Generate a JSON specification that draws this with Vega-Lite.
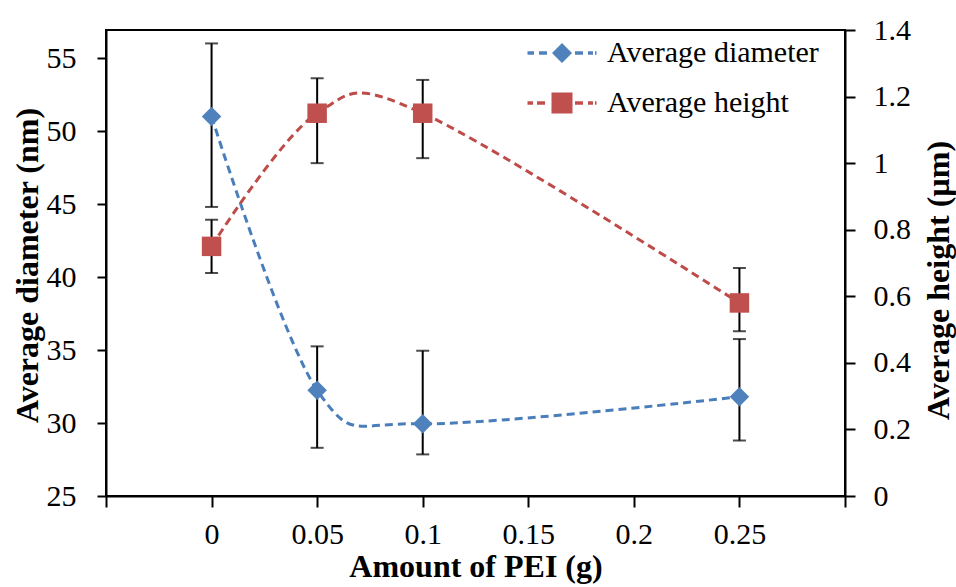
{
  "$schema": "https://vega.github.io/schema/vega-lite/v6.json",
  "width": 739,
  "height": 466,
  "autosize": "none",
  "padding": {"left": 106, "top": 30, "right": 111, "bottom": 91},
  "background": "white",
  "config": {
    "view": {"stroke": "black", "strokeWidth": 2},
    "font": "Liberation Serif",
    "axis": {
      "domainColor": "black", "domainWidth": 2, "tickColor": "black", "tickWidth": 2,
      "labelColor": "black", "titleColor": "black", "grid": false,
      "labelFont": "Liberation Serif", "titleFont": "Liberation Serif",
      "labelFontSize": 30, "titleFontSize": 32, "titleFontWeight": "bold"
    }
  },
  "datasets": {
    "pts": [
      {"x": 0, "diam": 51.0, "dlo": 44.8, "dhi": 56.0, "height": 0.75, "hlo": 0.67, "hhi": 0.83},
      {"x": 0.05, "diam": 32.25, "dlo": 28.3, "dhi": 35.25, "height": 1.15, "hlo": 1.0, "hhi": 1.255},
      {"x": 0.1, "diam": 29.95, "dlo": 27.85, "dhi": 34.95, "height": 1.15, "hlo": 1.015, "hhi": 1.25},
      {"x": 0.25, "diam": 31.8, "dlo": 28.8, "dhi": 35.75, "height": 0.58, "hlo": 0.495, "hhi": 0.685}
    ],
    "leg": [
      {"series": "Average diameter"},
      {"series": "Average height"}
    ]
  },
  "layer": [
    {
      "data": {"name": "pts"},
      "layer": [
        {
          "mark": {"type": "rule", "color": "black", "strokeWidth": 2},
          "encoding": {
            "x": {"field": "x", "type": "quantitative", "scale": {"domain": [-0.05, 0.3], "nice": false, "zero": false},
              "axis": {"orient": "bottom", "values": [-0.05, 0, 0.05, 0.1, 0.15, 0.2, 0.25, 0.3], "tickSize": 11, "labelPadding": 12,
                "labelExpr": "datum.value < -0.01 || datum.value > 0.29 ? '' : format(datum.value, '~g')",
                "title": "Amount of PEI (g)", "titleAlign": "center", "titleBaseline": "alphabetic", "titleX": 369.5, "titleY": 80}},
            "y": {"field": "dlo", "type": "quantitative", "scale": {"domain": [25, 56.92], "nice": false, "zero": false},
              "axis": {"orient": "left", "values": [25, 30, 35, 40, 45, 50, 55], "tickSize": 9, "labelPadding": 21,
                "title": "Average diameter (nm)", "titleAngle": 270, "titleAlign": "center", "titleBaseline": "middle",
                "titleX": -79, "titleY": 235}},
            "y2": {"field": "dhi"}
          }
        },
        {
          "mark": {"type": "tick", "orient": "horizontal", "color": "black", "size": 13, "thickness": 2},
          "encoding": {"x": {"field": "x", "type": "quantitative"}, "y": {"field": "dlo", "type": "quantitative"}}
        },
        {
          "mark": {"type": "tick", "orient": "horizontal", "color": "black", "size": 13, "thickness": 2},
          "encoding": {"x": {"field": "x", "type": "quantitative"}, "y": {"field": "dhi", "type": "quantitative"}}
        },
        {
          "mark": {"type": "line", "color": "#4A7EBB", "strokeWidth": 3, "strokeDash": [8, 5], "interpolate": "cardinal"},
          "encoding": {"x": {"field": "x", "type": "quantitative"}, "y": {"field": "diam", "type": "quantitative"}}
        },
        {
          "mark": {"type": "point", "shape": "diamond", "filled": true, "opacity": 1, "color": "#4F81BD", "size": 380},
          "encoding": {"x": {"field": "x", "type": "quantitative"}, "y": {"field": "diam", "type": "quantitative"}}
        }
      ]
    },
    {
      "data": {"name": "pts"},
      "layer": [
        {
          "mark": {"type": "rule", "color": "black", "strokeWidth": 2},
          "encoding": {
            "x": {"field": "x", "type": "quantitative"},
            "y": {"field": "hlo", "type": "quantitative", "scale": {"domain": [0, 1.4], "nice": false, "zero": false},
              "axis": {"orient": "right", "values": [0, 0.2, 0.4, 0.6, 0.8, 1, 1.2, 1.4], "tickSize": 10, "labelPadding": 18,
                "labelExpr": "format(datum.value, '~g')",
                "title": "Average height (µm)", "titleFontSize": 32, "titleAngle": 270, "titleAlign": "center", "titleBaseline": "middle",
                "titleX": 93, "titleY": 250}},
            "y2": {"field": "hhi"}
          }
        },
        {
          "mark": {"type": "tick", "orient": "horizontal", "color": "black", "size": 13, "thickness": 2},
          "encoding": {"x": {"field": "x", "type": "quantitative"}, "y": {"field": "hlo", "type": "quantitative"}}
        },
        {
          "mark": {"type": "tick", "orient": "horizontal", "color": "black", "size": 13, "thickness": 2},
          "encoding": {"x": {"field": "x", "type": "quantitative"}, "y": {"field": "hhi", "type": "quantitative"}}
        },
        {
          "mark": {"type": "line", "color": "#BE4B48", "strokeWidth": 3, "strokeDash": [8, 5], "interpolate": "cardinal"},
          "encoding": {"x": {"field": "x", "type": "quantitative"}, "y": {"field": "height", "type": "quantitative"}}
        },
        {
          "mark": {"type": "point", "shape": "square", "filled": true, "opacity": 1, "color": "#C0504D", "size": 380},
          "encoding": {"x": {"field": "x", "type": "quantitative"}, "y": {"field": "height", "type": "quantitative"}}
        }
      ]
    },
    {
      "data": {"name": "leg"},
      "transform": [{"filter": "false"}],
      "mark": {"type": "point", "filled": true, "opacity": 1},
      "encoding": {
        "color": {"field": "series", "type": "nominal",
          "scale": {"domain": ["Average diameter", "Average height"], "range": ["#4F81BD", "#C0504D"]},
          "legend": {"title": null, "orient": "none", "legendX": 441, "legendY": 8, "padding": 0,
            "symbolSize": 400, "symbolOpacity": 1, "symbolStrokeWidth": 0, "labelOffset": 30,
            "labelFont": "Liberation Serif", "labelFontSize": 30, "labelColor": "black", "rowPadding": 20,
            "labelLimit": 400}},
        "shape": {"field": "series", "type": "nominal",
          "scale": {"domain": ["Average diameter", "Average height"],
            "range": [
              "M-3.45,-0.18H-2.8V0.18H-3.45Z M-2.3,-0.18H-1.5V0.18H-2.3Z M-1,0L0,-1L1,0L0,1Z M1.3,-0.18H2.1V0.18H1.3Z M2.6,-0.18H3.1V0.18H2.6Z M3.3,-0.18H3.45V0.18H3.3Z",
              "M-3.45,-0.18H-2.9V0.18H-3.45Z M-2.5,-0.18H-1.7V0.18H-2.5Z M-1.05,-1.05H1.05V1.05H-1.05Z M1.3,-0.18H2.1V0.18H1.3Z M2.6,-0.18H3.1V0.18H2.6Z M3.3,-0.18H3.45V0.18H3.3Z"
            ]},
          "legend": {"title": null, "orient": "none", "legendX": 441, "legendY": 8}}
      }
    }
  ],
  "resolve": {"scale": {"y": "independent"}}
}
